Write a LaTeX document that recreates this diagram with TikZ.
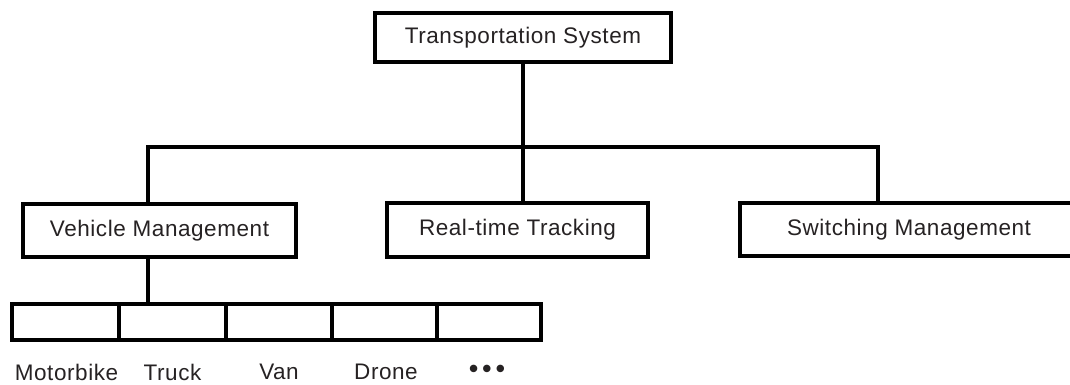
\documentclass[tikz,border=0pt]{standalone}
\usepackage{fontspec}
\setmainfont[LetterSpace=2.5]{Liberation Sans}
\definecolor{inkline}{RGB}{0,0,0}
\definecolor{inktext}{RGB}{38,34,35}
\tikzset{
  wire/.style={draw=inkline, line width=4pt, line join=miter},
  unit/.style={draw=inkline, line width=4pt, rectangle, inner sep=0pt,
               fill=white, text=inktext, font=\fontsize{22.5}{26}\selectfont},
  cell/.style={draw=inkline, line width=4pt, rectangle, inner sep=0pt,
               minimum height=36pt},
  caption/.style={text=inktext, inner sep=0pt, font=\fontsize{22.5}{26}\selectfont}
}
\begin{document}
\begin{tikzpicture}[x=1pt, y=-1pt]
\useasboundingbox (0,0) rectangle (1070,385);
\clip (0,0) rectangle (1070,385);

% root and second level
\node[unit, minimum width=296pt, minimum height=49pt] (top) at (523,37.5) {Transportation System};
\node[unit, minimum width=273pt, minimum height=53pt] (vm) at (159.5,230.5) {Vehicle Management};
\node[unit, minimum width=261pt, minimum height=54pt] (rt) at (517.5,230) {Real-time Tracking};
\node[unit, minimum width=338pt, minimum height=53pt] (sm) at (909,229.5) {Switching Management};

% vehicle types row
\node[cell, minimum width=107pt] (c1) at (65.5,322) {};
\node[cell, minimum width=107pt] (c2) at (172.5,322) {};
\node[cell, minimum width=106pt] (c3) at (279,322) {};
\node[cell, minimum width=105pt] (c4) at (384.5,322) {};
\node[cell, minimum width=104pt] (c5) at (489,322) {};

\node[caption] (l1) at (66.5,372) {Motorbike};
\node[caption] (l2) at (172.5,372) {Truck};
\node[caption] (l3) at (279,372) {Van};
\node[caption] (l4) at (386,372) {Drone};
\node[caption, font=\fontsize{26}{28}\selectfont\bfseries] (l5) at (487,371) {•\,•\,•};

% tree connectors
\coordinate (jl) at (148,147);
\coordinate (jr) at (878,147);
\coordinate (jm) at (top.south |- jl);
\draw[wire] (top.south) -- (jm) -- (jm |- rt.north);
\draw[wire] (jl |- vm.north) -- (jl) -- (jr) -- (jr |- sm.north);
\draw[wire] (jl |- vm.south) -- (jl |- c2.north);
\end{tikzpicture}
\end{document}
